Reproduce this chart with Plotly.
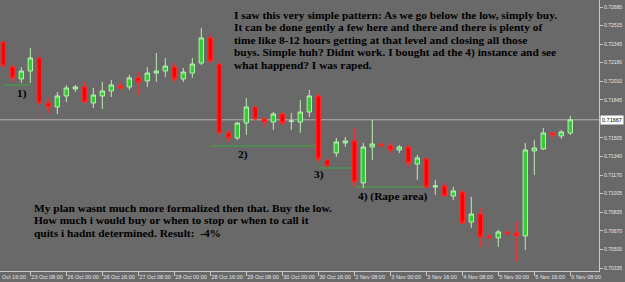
import pandas as pd
import plotly.graph_objects as go

# ---------------- data ----------------
opens = [0.72366, 0.72141, 0.72034, 0.72105, 0.72222, 0.71818, 0.71782, 0.71881, 0.71944, 0.71962,
         0.71818, 0.71881, 0.71926, 0.71971, 0.71962, 0.72043, 0.72016, 0.72087, 0.72105, 0.72141,
         0.72034, 0.72087, 0.72177, 0.72402, 0.72168, 0.71549, 0.71504, 0.71638, 0.71782, 0.71674,
         0.71647, 0.71719, 0.71652, 0.71647, 0.71737, 0.71881, 0.71306, 0.71369, 0.71459, 0.71477,
         0.71100, 0.71423, 0.71450, 0.71432, 0.71396, 0.71423, 0.71270, 0.71315, 0.71064, 0.71073,
         0.70983, 0.71019, 0.70749, 0.70821, 0.70624, 0.70606, 0.70660, 0.70651, 0.70624, 0.71387,
         0.71405, 0.71549, 0.71522, 0.71549]
highs = [0.72384, 0.72159, 0.72141, 0.72312, 0.72276, 0.71863, 0.71917, 0.71980, 0.71980, 0.72007,
         0.71953, 0.72007, 0.72025, 0.72007, 0.72069, 0.72096, 0.72141, 0.72267, 0.72222, 0.72177,
         0.72132, 0.72222, 0.72492, 0.72429, 0.72204, 0.71576, 0.71647, 0.71863, 0.71818, 0.71692,
         0.71737, 0.71737, 0.71728, 0.71845, 0.71935, 0.71908, 0.71333, 0.71504, 0.71513, 0.71594,
         0.71459, 0.71665, 0.71468, 0.71459, 0.71441, 0.71441, 0.71351, 0.71333, 0.71127, 0.71100,
         0.71064, 0.71037, 0.70974, 0.70875, 0.70651, 0.70678, 0.70696, 0.70749, 0.71459, 0.71486,
         0.71594, 0.71558, 0.71576, 0.71701]
lows = [0.72114, 0.72007, 0.71998, 0.71998, 0.71674, 0.71728, 0.71719, 0.71827, 0.71917, 0.71818,
        0.71773, 0.71764, 0.71872, 0.71935, 0.71935, 0.71890, 0.71962, 0.72007, 0.72051, 0.72007,
        0.72007, 0.72043, 0.72159, 0.72177, 0.71459, 0.71468, 0.71486, 0.71531, 0.71620, 0.71603,
        0.71576, 0.71612, 0.71576, 0.71549, 0.71692, 0.71288, 0.71234, 0.71333, 0.71423, 0.71064,
        0.71055, 0.71306, 0.71414, 0.71369, 0.71369, 0.71243, 0.71127, 0.71055, 0.70992, 0.70974,
        0.70947, 0.70732, 0.70696, 0.70525, 0.70525, 0.70525, 0.70615, 0.70390, 0.70498, 0.71171,
        0.71396, 0.71504, 0.71495, 0.71531]
closes = [0.72150, 0.72043, 0.72105, 0.72222, 0.71818, 0.71782, 0.71881, 0.71953, 0.71962, 0.71827,
          0.71890, 0.71926, 0.71980, 0.71953, 0.72043, 0.72007, 0.72087, 0.72105, 0.72150, 0.72034,
          0.72096, 0.72168, 0.72402, 0.72195, 0.71549, 0.71504, 0.71638, 0.71782, 0.71674, 0.71647,
          0.71719, 0.71638, 0.71656, 0.71737, 0.71881, 0.71315, 0.71252, 0.71468, 0.71477, 0.71109,
          0.71423, 0.71450, 0.71432, 0.71396, 0.71423, 0.71279, 0.71324, 0.71064, 0.71073, 0.70983,
          0.71028, 0.70741, 0.70821, 0.70615, 0.70606, 0.70660, 0.70642, 0.70624, 0.71396, 0.71414,
          0.71549, 0.71531, 0.71558, 0.71667]

# H4 bar times (weekends skipped)
_t = pd.date_range("2009-10-22 20:00", "2009-11-06 08:00", freq="4h")
_t = _t[_t.weekday < 5]
bar_times = [f"{d.day} {d.strftime('%b %H:%M')}" for d in _t]

tick_labels = ["23 Oct 08:00", "26 Oct 00:00", "26 Oct 16:00", "27 Oct 08:00", "28 Oct 00:00",
               "28 Oct 16:00", "29 Oct 08:00", "30 Oct 00:00", "30 Oct 16:00", "2 Nov 08:00",
               "3 Nov 00:00", "3 Nov 16:00", "4 Nov 08:00", "5 Nov 00:00", "5 Nov 16:00", "6 Nov 08:00"]
first_label_visible = "Oct 16:00"   # "22 Oct 16:00", cut at the left edge in the original
price_ticks = [0.72680, 0.72515, 0.72345, 0.72180, 0.72010, 0.71845, 0.71505, 0.71340,
               0.71170, 0.71005, 0.70835, 0.70670, 0.70500, 0.70335]
current_price = 0.71667

# support levels: (price, from bar, to bar)
levels = [0.71980, 0.71432, 0.71234, 0.71064]
level_from = ["22 Oct 20:00", "28 Oct 16:00", "30 Oct 16:00", "2 Nov 08:00"]
level_to = ["23 Oct 08:00", "30 Oct 16:00", "2 Nov 08:00", "3 Nov 16:00"]

top_text = ["I saw this very simple pattern: As we go below the low, simply buy.",
            "It can be done gently a few here and there and there is plenty of",
            "time like 8-12 hours getting at that level and closing all those",
            "buys. Simple huh? Didnt work. I bought ad the 4) instance and see",
            "what happend? I was raped."]
bottom_text = ["My plan wasnt much more formalized then that. Buy the low.",
               "How much i would buy or when to stop or when to call it",
               "quits i hadnt determined. Result:  -4%"]

# ---------------- figure ----------------
W, H = 625, 282
ML, MR, MT, MB = 0, 26, 0, 11
PW, PH = W - ML - MR, H - MT - MB
BG = "#696969"
AX = "#c8c8c8"
SERIF = "Liberation Serif"
LBL = "#e6e6e6"

def px(x):  # pixel -> paper x
    return (x - ML) / PW

def py(y):  # pixel -> paper y
    return 1 - (y - MT) / PH

fig = go.Figure()
fig.add_trace(go.Candlestick(
    x=bar_times, open=opens, high=highs, low=lows, close=closes,
    increasing=dict(line=dict(color="#b8f0b0", width=1), fillcolor="#33cc33"),
    decreasing=dict(line=dict(color="#ff2a2a", width=1), fillcolor="#ff0000"),
    whiskerwidth=0, showlegend=False, hoverinfo="skip",
))

shapes = [dict(type="line", xref="paper", x0=0, x1=1, yref="y", y0=current_price, y1=current_price,
               line=dict(color="#b4b4b4", width=1), layer="below")]
for lv, a, b in zip(levels, level_from, level_to):
    shapes.append(dict(type="line", xref="x", yref="y",
                       x0=bar_times.index(a), x1=bar_times.index(b), y0=lv, y1=lv,
                       line=dict(color="#3fa83f", width=1), layer="below"))

ann = []
tfont = dict(family=SERIF, size=11.4, color="black")
for i, line in enumerate(top_text):
    ann.append(dict(xref="paper", yref="paper", x=px(232), y=py(15 + 12.5 * i), text="<b>" + line + "</b>",
                    showarrow=False, xanchor="left", yanchor="middle", font=tfont))
for i, line in enumerate(bottom_text):
    ann.append(dict(xref="paper", yref="paper", x=px(32), y=py(208 + 12.4 * i), text="<b>" + line + "</b>",
                    showarrow=False, xanchor="left", yanchor="middle", font=tfont))
for txt, x, y in [("1)", 15, 93), ("2)", 236, 154), ("3)", 312, 174), ("4) (Rape area)", 356, 196)]:
    ann.append(dict(xref="paper", yref="paper", x=px(x), y=py(y), text="<b>" + txt + "</b>",
                    showarrow=False, xanchor="left", yanchor="middle", font=tfont))
# partially visible first time label
ann.append(dict(xref="paper", yref="paper", x=px(1), y=py(277), text=first_label_visible, showarrow=False,
                xanchor="left", yanchor="middle", borderpad=0,
                font=dict(family="Liberation Sans", size=5.5, color=LBL)))
# current price label
ann.append(dict(xref="paper", yref="y", x=1, y=current_price, text=f"{current_price:.5f}", showarrow=False,
                xanchor="left", yanchor="middle", xshift=1, bgcolor="white", borderpad=1,
                font=dict(family="Liberation Sans", size=5.5, color="black")))

fig.update_layout(
    width=W, height=H, margin=dict(l=ML, r=MR, t=MT, b=MB),
    paper_bgcolor=BG, plot_bgcolor=BG, boxgap=0.3,
    shapes=shapes, annotations=ann, showlegend=False,
    xaxis=dict(type="category", categoryorder="array", categoryarray=bar_times,
               range=[-0.37, 66.19], rangeslider=dict(visible=False),
               tickvals=tick_labels, ticktext=tick_labels, ticklabelposition="outside right",
               tickangle=0, ticks="outside", ticklen=4, tickcolor=AX,
               showline=True, linecolor=AX, linewidth=1,
               showgrid=False, zeroline=False,
               tickfont=dict(family="Liberation Sans", size=5.5, color=LBL)),
    yaxis=dict(side="right", range=[0.70309, 0.72743], tickvals=price_ticks,
               ticktext=[f"{v:.5f}" for v in price_ticks], ticks="outside", ticklen=3, tickcolor=AX,
               showline=True, linecolor=AX, linewidth=1, showgrid=False, zeroline=False,
               tickfont=dict(family="Liberation Sans", size=5, color=LBL)),
)

fig.write_html("out.html")
